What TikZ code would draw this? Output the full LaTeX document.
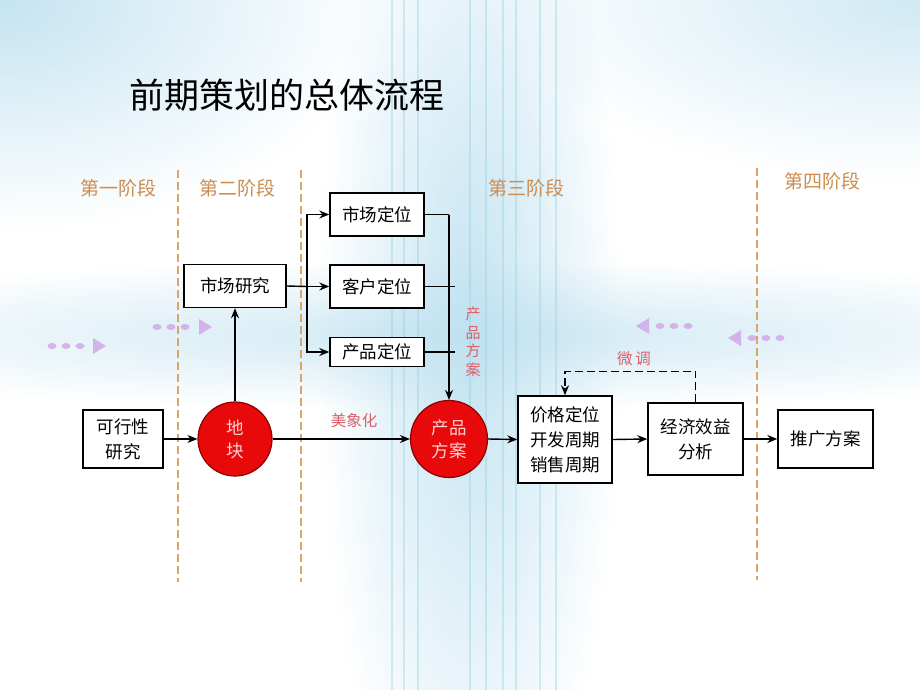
\documentclass[tikz,border=0pt]{standalone}
\usepackage{fontspec}
\newfontfamily\cjk{Noto Sans CJK SC}
\usetikzlibrary{arrows.meta,fadings}
\definecolor{stagec}{RGB}{205,140,80}
\definecolor{dashc}{RGB}{218,165,105}
\definecolor{pinkc}{RGB}{220,95,105}
\definecolor{redc}{RGB}{232,10,10}
\definecolor{lav}{RGB}{212,178,236}
\definecolor{bluec}{RGB}{190,225,240}
\definecolor{tealc}{RGB}{140,205,222}
\definecolor{circtext}{RGB}{255,210,210}
\tikzfading[name=radfade, inner color=transparent!10, outer color=transparent!100]
\begin{document}
\begin{tikzpicture}[x=1pt,y=-1pt,
  box/.style={draw, line width=1.4pt, fill=white, inner sep=0pt, align=center,
    font=\cjk\fontsize{17.5}{25}\selectfont},
  circ/.style={circle, draw=red!55!black, line width=1.2pt, fill=redc, inner sep=0pt,
    minimum size=74pt, align=center, text=circtext, font=\cjk\fontsize{17.5}{23}\selectfont},
  arr/.style={-{Stealth[length=10pt,width=8pt]}, line width=1.4pt},
  ln/.style={line width=1.4pt},
  stagedash/.style={dashc, line width=1.8pt, dash pattern=on 8pt off 4pt},
  stagelbl/.style={text=stagec, font=\cjk\fontsize{19}{22}\selectfont},
  pinklbl/.style={text=pinkc, font=\cjk\fontsize{15.5}{19}\selectfont},
  dot/.style={fill=lav, draw=none}
]
\useasboundingbox (0,0) rectangle (920,690);
% background
\fill[white] (0,0) rectangle (920,690);
\fill[bluec, path fading=radfade] (0,0) ellipse (380 and 230);
\fill[bluec, path fading=radfade, opacity=0.8] (920,0) ellipse (420 and 180);
\fill[bluec, path fading=radfade] (470,330) ellipse (150 and 560);
\fill[bluec, path fading=radfade, opacity=0.8] (460,335) ellipse (760 and 75);
\foreach \xx in {392,404,418,470,486,503,516,540,556}
  \draw[tealc, line width=1.2pt, opacity=0.35] (\xx,0) -- (\xx,690);
% decorative arrows
\foreach \xx in {52,66,80} \fill[dot] (\xx,346) ellipse (4.5 and 3);
\fill[dot] (93,338) -- (106,346) -- (93,354) -- cycle;
\foreach \xx in {157,171,185} \fill[dot] (\xx,327) ellipse (4.5 and 3);
\fill[dot] (199,319) -- (212,327) -- (199,335) -- cycle;
\foreach \xx in {660,674,688} \fill[dot] (\xx,326) ellipse (4.5 and 3);
\fill[dot] (649,318) -- (636,326) -- (649,334) -- cycle;
\foreach \xx in {752,766,780} \fill[dot] (\xx,338) ellipse (4.5 and 3);
\fill[dot] (741,330) -- (728,338) -- (741,346) -- cycle;
% title
\node[anchor=west, font=\cjk\fontsize{35}{40}\selectfont, inner sep=0pt] (title) at (129,95) {前期策划的总体流程};
% stage lines
\coordinate (s1t) at (178,170); \coordinate (s1b) at (178,582);
\coordinate (s2t) at (301,170); \coordinate (s2b) at (301,582);
\coordinate (s3t) at (757,168); \coordinate (s3b) at (757,580);
\draw[stagedash] (s1t) -- (s1b);
\draw[stagedash] (s2t) -- (s2b);
\draw[stagedash] (s3t) -- (s3b);
\node[stagelbl] (st1) at (118,188) {第一阶段};
\node[stagelbl] (st2) at (237,188) {第二阶段};
\node[stagelbl] (st3) at (526,188) {第三阶段};
\node[stagelbl] (st4) at (822,181) {第四阶段};
% nodes
\node[box, minimum width=80pt, minimum height=58pt] (kx) at (123,439) {可行性\\研究};
\node[circ] (dk) at (235,439) {地\\块};
\node[box, minimum width=102pt, minimum height=43pt] (sc) at (235,286) {市场研究};
\node[box, minimum width=94pt, minimum height=43pt] (m1) at (377,214.5) {市场定位};
\node[box, minimum width=94pt, minimum height=43pt] (m2) at (377,286.5) {客户定位};
\node[box, minimum width=94pt, minimum height=29pt] (m3) at (377,352) {产品定位};
\node[circ, minimum size=77pt] (fa) at (449,439) {产品\\方案};
\node[box, minimum width=94pt, minimum height=87pt] (jg) at (565,439.5) {价格定位\\开发周期\\销售周期};
\node[box, minimum width=95pt, minimum height=72pt] (jj) at (695.5,439) {经济效益\\分析};
\node[box, minimum width=95pt, minimum height=58pt] (tg) at (825.5,439) {推广方案};
% connectors
\draw[arr] (kx.east) -- (dk.west);
\draw[arr] (dk.north) -- (sc.south);
\coordinate (br) at (307,286.5);
\draw[ln] (sc.east) -- (br);
\draw[arr] (br) |- (m1.west);
\draw[arr] (br) -- (m2.west);
\draw[arr] (br) |- (m3.west);
\coordinate (jn) at (449,214.5);
\coordinate (t2) at (455,286.5);
\coordinate (t3) at (455,352);
\draw[ln] (m1.east) -- (jn);
\draw[arr] (jn) -- (fa.north);
\draw[ln] (m2.east) -- (t2);
\draw[ln] (m3.east) -- (t3);
\draw[arr] (dk.east) -- (fa.west);
\draw[arr] (fa.east) -- (jg.west);
\draw[arr] (jg.east) -- (jj.west);
\draw[arr] (jj.east) -- (tg.west);
\draw[arr, dash pattern=on 8pt off 4pt] (jj.north) -- ++(0,-31) -| (jg.north);
% labels
\node[pinklbl] (l1) at (354,421) {美象化};
\node[pinklbl, align=center, font=\cjk\fontsize{15}{18.5}\selectfont] (l2) at (473,342) {产\\品\\方\\案};
\node[pinklbl] (l3) at (634,359) {微\,调};
\end{tikzpicture}
\end{document}
